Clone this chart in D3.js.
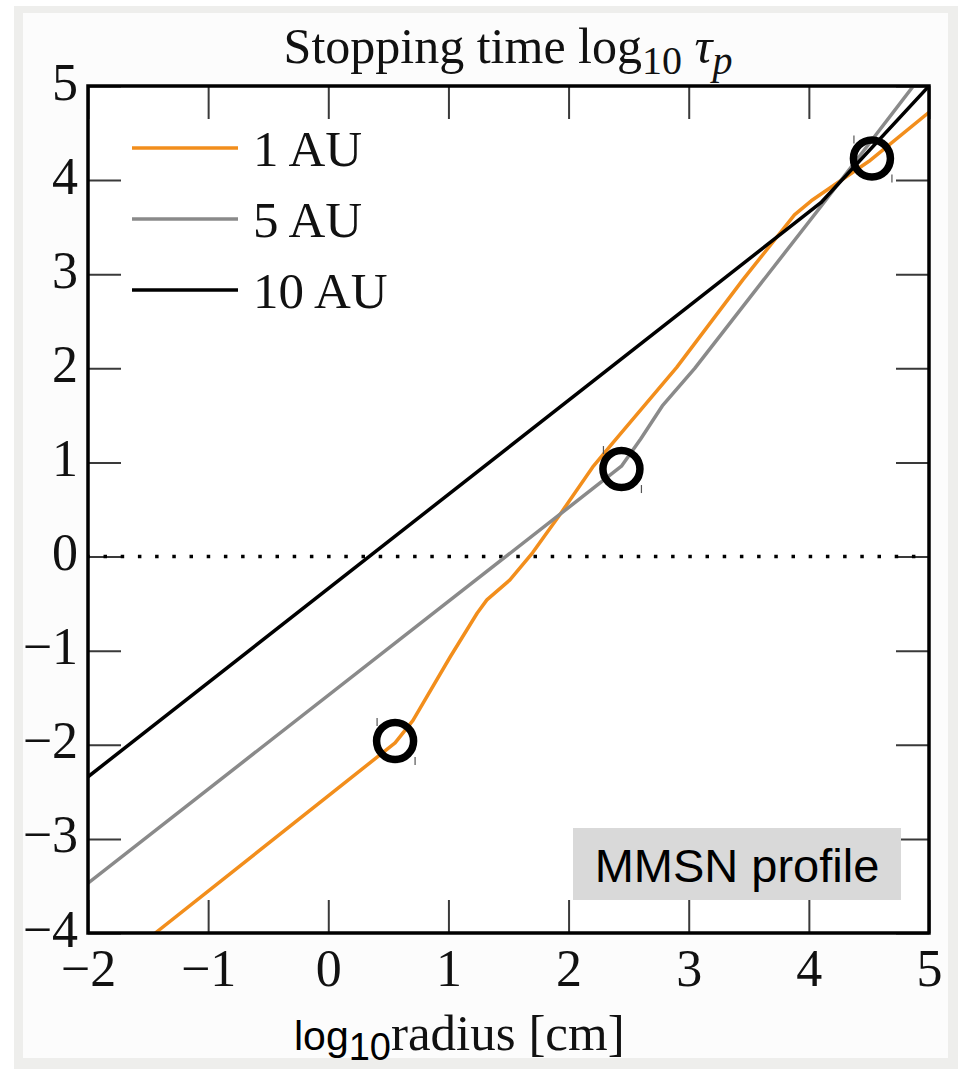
<!DOCTYPE html>
<html>
<head>
<meta charset="utf-8">
<script src="https://cdn.jsdelivr.net/npm/d3@7"></script>
<style>
  html, body { margin: 0; padding: 0; background: #fff; }
  svg { display: block; }
</style>
</head>
<body>
<svg id="chart" width="958" height="1069"></svg>
<script>
// data (log10 radius [cm] -> log10 stopping time)
const xTicks = [-2, -1, 0, 1, 2, 3, 4, 5];
const yTicks = [-4, -3, -2, -1, 0, 1, 2, 3, 4, 5];

const au1 = [[-1.44, -4], [0.556, -1.98], [0.705, -1.74], [1.013, -1.07], [1.24, -0.60],
  [1.32, -0.46], [1.51, -0.25], [1.70, 0.04], [1.93, 0.45], [2.20, 0.95], [2.37, 1.21],
  [2.90, 2.01], [3.45, 2.94], [3.88, 3.63], [4.02, 3.78], [4.5, 4.2], [5, 4.72]];
const au5 = [[-2, -3.47], [2.44, 0.96], [2.6, 1.25], [2.78, 1.6], [3.05, 2.0],
  [4.1, 3.72], [4.87, 5.0], [5.0, 5.21]];
const au10 = [[-2, -2.34], [4.1, 3.76], [5, 5]];

const seriesNames = ["1 AU", "5 AU", "10 AU"];
const seriesData = [au1, au5, au10];
const seriesColors = ["#f28e1c", "#8a8a8a", "#000000"];

// highlighted points (circles)
const markers = [[0.556, -1.96], [2.44, 0.93], [4.525, 4.23]];

const svg = d3.select("#chart");
const W = 958, H = 1069;

// page frame
svg.append("rect").attr("x", 14).attr("y", 6).attr("width", W - 14).attr("height", H - 6).attr("fill", "#eeeeec");
svg.append("rect").attr("x", 23).attr("y", 13).attr("width", 948 - 23).attr("height", 1058 - 13).attr("fill", "#fcfcfc");

const margin = { left: 88, top: 86, right: 929, bottom: 933 };
const x = d3.scaleLinear().domain([-2, 5]).range([margin.left, margin.right]);
const y = d3.scaleLinear().domain([-4, 5]).range([margin.bottom, margin.top]);

const serif = "'Liberation Serif', 'Times New Roman', serif";
const sans = "'Liberation Sans', Arial, sans-serif";

svg.append("defs").append("clipPath").attr("id", "plotclip")
  .append("rect").attr("x", margin.left).attr("y", margin.top)
  .attr("width", margin.right - margin.left).attr("height", margin.bottom - margin.top);

const plotW = margin.right - margin.left, plotH = margin.bottom - margin.top;
svg.append("rect").attr("x", margin.left).attr("y", margin.top)
  .attr("width", plotW).attr("height", plotH).attr("fill", "#fff");

// inner ticks on all sides
const tickLen = 33;
const tickCol = "#3a3a3a";
const fmt = d => d < 0 ? "\u2212" + Math.abs(d) : d;
const axB = svg.append("g").attr("transform", `translate(0,${margin.bottom})`)
  .call(d3.axisBottom(x).tickValues(xTicks).tickSizeInner(-tickLen).tickSizeOuter(0)
    .tickPadding(16).tickFormat(fmt));
const axT = svg.append("g").attr("transform", `translate(0,${margin.top})`)
  .call(d3.axisTop(x).tickValues(xTicks).tickSizeInner(-tickLen).tickSizeOuter(0).tickFormat(""));
const axL = svg.append("g").attr("transform", `translate(${margin.left},0)`)
  .call(d3.axisLeft(y).tickValues(yTicks).tickSizeInner(-tickLen).tickSizeOuter(0)
    .tickPadding(10).tickFormat(fmt));
const axR = svg.append("g").attr("transform", `translate(${margin.right},0)`)
  .call(d3.axisRight(y).tickValues(yTicks).tickSizeInner(-tickLen).tickSizeOuter(0).tickFormat(""));

[axB, axT, axL, axR].forEach(a => {
  a.select(".domain").remove();
  a.selectAll(".tick line").attr("stroke", tickCol).attr("stroke-width", 2);
  a.selectAll("text").attr("font-family", serif).attr("font-size", 52).attr("fill", "#111");
});
axB.selectAll("text").attr("dy", "0.71em");
axL.selectAll("text").attr("dy", "0.25em");

// zero reference (dotted)
svg.append("line")
  .attr("x1", x(-2)).attr("x2", x(5)).attr("y1", y(0)).attr("y2", y(0))
  .attr("stroke", "#000").attr("stroke-width", 3.5).attr("stroke-dasharray", "3.5,13.7")
  .attr("stroke-dashoffset", 1.7);

// curves
const line = d3.line().x(d => x(d[0])).y(d => y(d[1]));
const curves = svg.append("g").attr("clip-path", "url(#plotclip)");
seriesData.forEach((s, i) => {
  curves.append("path").datum(s)
    .attr("d", line)
    .attr("fill", "none")
    .attr("stroke", seriesColors[i])
    .attr("stroke-width", 3.5)
    .attr("stroke-linejoin", "round");
});

// frame
svg.append("rect").attr("x", margin.left).attr("y", margin.top)
  .attr("width", plotW).attr("height", plotH)
  .attr("fill", "none").attr("stroke", "#000").attr("stroke-width", 3.5);

// legend
const legend = svg.append("g");
seriesNames.forEach((name, i) => {
  const ly = 148 + i * 71;
  legend.append("line").attr("x1", 132).attr("x2", 238).attr("y1", ly).attr("y2", ly)
    .attr("stroke", seriesColors[i]).attr("stroke-width", 3.5);
  legend.append("text").attr("x", 253).attr("y", ly + 18)
    .attr("font-family", serif).attr("font-size", 51).attr("fill", "#111").text(name);
});

// marker circles and their little corner marks
const mk = svg.append("g");
markers.forEach(m => {
  const cx = x(m[0]), cy = y(m[1]);
  mk.append("line").attr("x1", cx - 18).attr("x2", cx - 18).attr("y1", cy - 23).attr("y2", cy - 15)
    .attr("stroke", "#555").attr("stroke-width", 1.2);
  mk.append("line").attr("x1", cx + 20).attr("x2", cx + 20).attr("y1", cy + 16).attr("y2", cy + 24)
    .attr("stroke", "#555").attr("stroke-width", 1.2);
  mk.append("circle").attr("cx", cx).attr("cy", cy).attr("r", 18.5)
    .attr("fill", "none").attr("stroke", "#000").attr("stroke-width", 7.5);
});

// annotation box
svg.append("rect").attr("x", 573).attr("y", 828).attr("width", 328).attr("height", 72).attr("fill", "#d9d9d9");
svg.append("text").attr("x", 737).attr("y", 882).attr("text-anchor", "middle")
  .attr("font-family", sans).attr("font-size", 47).attr("fill", "#000").text("MMSN profile");

// title
const title = svg.append("text").attr("x", 508).attr("y", 63).attr("text-anchor", "middle")
  .attr("font-family", serif).attr("font-size", 50).attr("fill", "#111");
title.append("tspan").text("Stopping time log");
title.append("tspan").attr("font-size", 40).attr("dy", 11).text("10");
title.append("tspan").attr("dy", -11).attr("font-style", "italic").text(" \u03c4");
title.append("tspan").attr("font-size", 40).attr("dy", 11).attr("font-style", "italic").text("p");

// x axis label
const xl = svg.append("text").attr("x", 294).attr("y", 1050).attr("fill", "#000");
xl.append("tspan").attr("font-family", sans).attr("font-size", 41).text("log");
xl.append("tspan").attr("font-family", sans).attr("font-size", 38).attr("dy", 10).text("10");
xl.append("tspan").attr("font-family", serif).attr("font-size", 51).attr("dy", -10).attr("fill", "#111").text("radius [cm]");
</script>
</body>
</html>
